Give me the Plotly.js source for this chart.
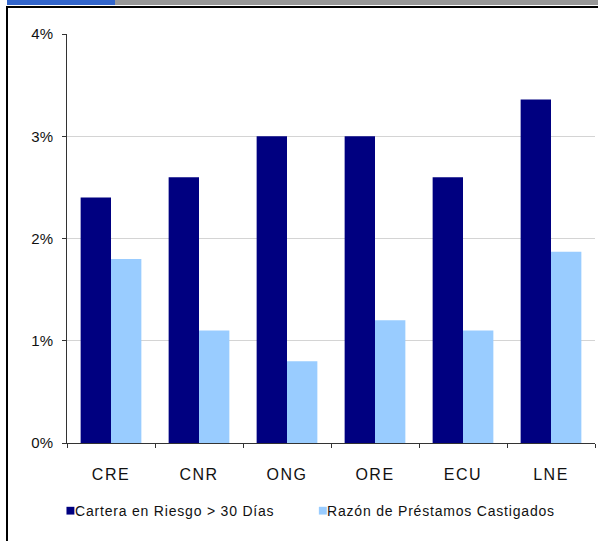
<!DOCTYPE html>
<html>
<head>
<meta charset="utf-8">
<script src="https://cdn.plot.ly/plotly-3.0.1.min.js"></script>
<style>
  html, body { margin: 0; padding: 0; background: #ffffff; }
  #wrap { position: relative; width: 598px; height: 541px; overflow: hidden; }
  #stripBlue { position: absolute; left: 7px; top: 0; width: 108px; height: 5px; background: #3366cc; }
  #stripGray { position: absolute; left: 115px; top: 0; width: 483px; height: 5px; background: #999999; }
  #frameTop { position: absolute; left: 6px; top: 6px; width: 592px; height: 2px; background: #000000; }
  #frameLeft { position: absolute; left: 6px; top: 6px; width: 2px; height: 535px; background: #000000; }
  #chart { position: absolute; left: 0; top: 0; width: 598px; height: 541px; }
  #chart .xtick text { letter-spacing: 1.5px; }
  text.annotation-text { letter-spacing: 0.8px; }
</style>
</head>
<body>
<div id="wrap">
  <div id="stripBlue"></div>
  <div id="stripGray"></div>
  <div id="chart"></div>
  <div id="frameTop"></div>
  <div id="frameLeft"></div>
</div>
<script>
// Categories (institution types)
const categories = ['CRE', 'CNR', 'ONG', 'ORE', 'ECU', 'LNE'];

// Portfolio at risk > 30 days (%)
const carteraRiesgo = [2.4, 2.6, 3.0, 3.0, 2.6, 3.36];
// Write-off ratio (%)
const razonCastigados = [1.8, 1.1, 0.8, 1.2, 1.1, 1.87];

const seriesNames = ['Cartera en Riesgo > 30 Días', 'Razón de Préstamos Castigados'];
const seriesColors = ['#000080', '#99ccff'];

const yTickVals = [0, 1, 2, 3, 4];
const yTickText = ['0%', '1%', '2%', '3%', '4%'];

const traces = [
  {
    type: 'bar', x: categories, y: carteraRiesgo, name: seriesNames[0],
    marker: { color: seriesColors[0], line: { width: 0 } },
    hoverinfo: 'x+y'
  },
  {
    type: 'bar', x: categories, y: razonCastigados, name: seriesNames[1],
    marker: { color: seriesColors[1], line: { width: 0 } },
    hoverinfo: 'x+y'
  }
];

const textFont = { family: 'Liberation Sans, Arial, sans-serif', size: 15, color: '#111111' };

// Hand-built legend: small square swatch followed by the series name
const legendY = -0.166;
const legendX = [0.0, 0.478];
const shapes = [];
const annotations = [];
seriesNames.forEach((name, i) => {
  shapes.push({
    type: 'rect', xref: 'paper', yref: 'paper',
    x0: legendX[i] - 0.001, x1: legendX[i] + 0.014,
    y0: legendY - 0.009, y1: legendY + 0.01,
    fillcolor: seriesColors[i], line: { width: 0 }
  });
  annotations.push({
    xref: 'paper', yref: 'paper', x: legendX[i] + 0.0125, y: legendY,
    xanchor: 'left', yanchor: 'middle', showarrow: false, borderpad: 0,
    text: name, font: { family: textFont.family, size: 14, color: '#111111' }
  });
});

const layout = {
  width: 598, height: 541,
  margin: { l: 67, r: 3, t: 34, b: 98 },
  paper_bgcolor: 'rgba(0,0,0,0)',
  plot_bgcolor: 'rgba(0,0,0,0)',
  barmode: 'group',
  bargap: 0.31,
  bargroupgap: 0,
  showlegend: false,
  font: textFont,
  xaxis: {
    type: 'category',
    showline: true, linecolor: '#333333', linewidth: 1,
    ticks: 'outside', tickson: 'boundaries', ticklen: 4, tickcolor: '#333333',
    tickfont: { family: textFont.family, size: 16, color: '#111111' },
    ticklabelstandoff: 17,
    showgrid: false, zeroline: false, fixedrange: true
  },
  yaxis: {
    range: [0, 4],
    tickvals: yTickVals, ticktext: yTickText,
    showline: true, linecolor: '#333333', linewidth: 1,
    ticks: 'outside', ticklen: 4, tickcolor: '#333333',
    tickfont: { family: textFont.family, size: 15, color: '#111111' },
    ticklabelstandoff: 6,
    showgrid: true, gridcolor: '#d4d4d4', gridwidth: 1,
    zeroline: false, fixedrange: true
  },
  shapes: shapes,
  annotations: annotations
};

Plotly.newPlot('chart', traces, layout, { displayModeBar: false, staticPlot: true });
</script>
</body>
</html>
